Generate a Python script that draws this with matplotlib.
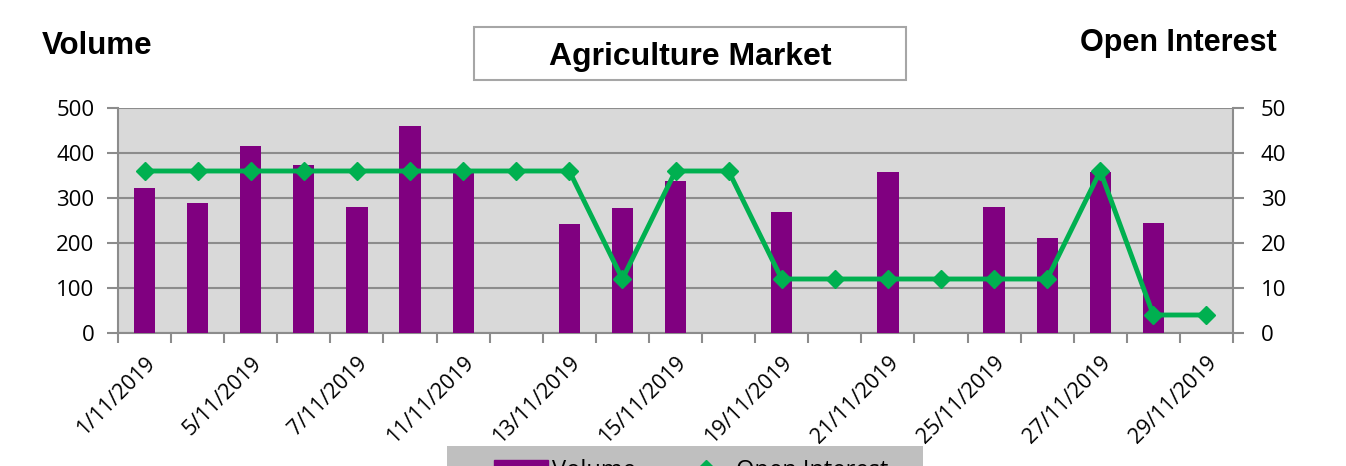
import matplotlib
matplotlib.use("Agg")
import matplotlib.pyplot as plt
from matplotlib.patches import Rectangle
from matplotlib.lines import Line2D
from matplotlib.patches import Patch
import numpy as np

# dados (dias úteis de novembro 2019)
datas = ["1/11/2019", "4/11/2019", "5/11/2019", "6/11/2019", "7/11/2019",
         "8/11/2019", "11/11/2019", "12/11/2019", "13/11/2019", "14/11/2019",
         "15/11/2019", "18/11/2019", "19/11/2019", "20/11/2019", "21/11/2019",
         "22/11/2019", "25/11/2019", "26/11/2019", "27/11/2019", "28/11/2019",
         "29/11/2019"]
volume = [323, 288, 415, 374, 279, 459, 365, 0, 243, 277,
          338, 0, 268, 0, 357, 0, 279, 211, 357, 245, 0]
open_interest = [36, 36, 36, 36, 36, 36, 36, 36, 36, 12,
                 36, 36, 12, 12, 12, 12, 12, 12, 36, 4, 4]

roxo = "#800080"
verde = "#00B050"
cinza = "#8C8C8C"

W, H = 1346, 466
fig = plt.figure(figsize=(W / 100, H / 100), dpi=100)
ax = fig.add_axes([118 / W, 1 - 333 / H, (1233 - 118) / W, (333 - 108) / H])
ax.set_facecolor("#D9D9D9")

x = np.arange(len(datas))
ax.bar(x, volume, width=0.4, color=roxo, zorder=3)
ax.set_xlim(-0.5, len(datas) - 0.5)
ax.set_ylim(0, 500)
ax.set_yticks(range(0, 501, 100))
ax.grid(axis="y", color=cinza, linewidth=1.5, zorder=0)

# eixo x: marcas nas fronteiras, rótulos em dias alternados
ax.set_xticks(np.arange(-0.5, len(datas), 1))
ax.set_xticklabels([])
ax.set_xticks(x[::2], minor=True)
ax.set_xticklabels(datas[::2], minor=True, rotation=45, ha="right",
                   rotation_mode="anchor", fontsize=15.5, family="Open Sans")
ax.tick_params(axis="x", which="major", length=7, color=cinza, width=1.5)
ax.tick_params(axis="x", which="minor", length=0, pad=14)
ax.tick_params(axis="y", length=8, color=cinza, width=1.5, labelsize=16, pad=9)
for lab in ax.get_yticklabels():
    lab.set_family("Open Sans")

for s in ["top", "right"]:
    ax.spines[s].set_visible(False)
for s in ["left", "bottom"]:
    ax.spines[s].set_color(cinza)
    ax.spines[s].set_linewidth(1.5)

ax2 = ax.twinx()
ax2.plot(x, open_interest, color=verde, linewidth=3.5, marker="D",
         markersize=9, zorder=4)
ax2.set_ylim(0, 50)
ax2.set_yticks(range(0, 51, 10))
ax2.tick_params(axis="y", length=8, color=cinza, width=1.5, labelsize=16, pad=12)
for lab in ax2.get_yticklabels():
    lab.set_family("Open Sans")
for s in ["top", "left", "bottom"]:
    ax2.spines[s].set_visible(False)
ax2.spines["right"].set_color(cinza)
ax2.spines["right"].set_linewidth(1.5)

# títulos
fig.text(42 / W, 1 - 46 / H, "Volume", fontsize=22.5, fontweight="bold",
         family="Liberation Sans", va="center", ha="left")
fig.text(1277 / W, 1 - 43 / H, "Open Interest", fontsize=22, fontweight="bold",
         family="Liberation Sans", va="center", ha="right")
fig.patches.append(Rectangle((474 / W, 1 - 80 / H), 432 / W, 53 / H,
                             transform=fig.transFigure, facecolor="white",
                             edgecolor="#A6A6A6", linewidth=1.5))
fig.text(690 / W, 1 - 57 / H, "Agriculture Market", fontsize=23,
         fontweight="bold", family="Liberation Sans", va="center", ha="center")

# legenda (cortada na borda inferior) sobre um fundo cinza
fig.patches.append(Rectangle((447 / W, 0), (923 - 447) / W, (466 - 446) / H,
                             transform=fig.transFigure, facecolor="#BFBFBF",
                             edgecolor="none"))
handles = [Patch(facecolor=roxo, edgecolor=roxo),
           Line2D([], [], color=verde, linewidth=3.5, marker="D", markersize=9)]
leg = fig.legend(handles, ["Volume", "Open Interest"], ncol=2,
                 loc="upper left", bbox_to_anchor=(494 / W, 1 - 459 / H),
                 frameon=False,
                 prop={"family": "Open Sans", "size": 17},
                 handlelength=2.3, handletextpad=0.15, columnspacing=1.8,
                 borderpad=0, borderaxespad=0)

fig.savefig("out.png", dpi=100)
